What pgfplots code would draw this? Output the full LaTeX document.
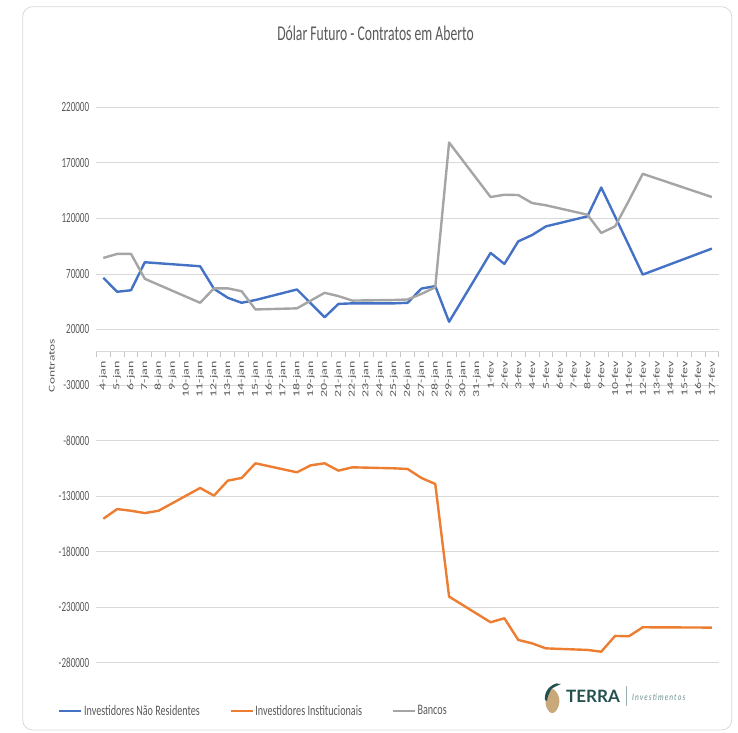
\documentclass[border=0pt]{standalone}
\usepackage{graphicx}
\usepackage{pgfplots}
\pgfplotsset{compat=1.18}
\usepackage{pgfplotstable}
\usepackage{fontspec}
\setmainfont{Carlito}[FakeStretch=0.65]
\newfontfamily\legfont{Carlito}[FakeStretch=0.7]
\newfontfamily\plainfont{Carlito}
\newfontfamily\logofont{Lato}
\newfontfamily\logoit{Lato}[FakeStretch=0.8,LetterSpace=12]
\definecolor{cblue}{HTML}{4472C4}
\definecolor{corange}{HTML}{ED7D31}
\definecolor{cgray}{HTML}{A5A5A5}
\definecolor{gridc}{HTML}{D9D9D9}
\definecolor{tickc}{HTML}{C8C8C8}
\definecolor{txt}{HTML}{595959}
\definecolor{logoteal}{HTML}{24504F}
\definecolor{logolight}{HTML}{6E9190}
\definecolor{logotan}{HTML}{C9A97A}
\newcommand{\xl}[1]{\scalebox{1}[0.65]{#1}}

\pgfplotstableread{
d v
0 66500
1 53900
2 55300
3 80500
4 79600
7 76900
8 56600
9 48500
10 44000
11 46500
14 56000
15 43500
16 31000
17 43000
18 43500
21 43500
22 44000
23 56800
24 59000
25 26900
28 88900
29 79000
30 99300
31 105000
32 112800
35 121800
36 147800
37 121700
38 95600
39 69400
44 92800
}\naoresidentes

\pgfplotstableread{
d v
0 -150400
1 -141700
2 -143200
3 -145300
4 -143200
7 -122700
8 -129600
9 -116100
10 -113700
11 -100500
14 -108600
15 -102300
16 -100500
17 -107100
18 -104100
21 -105000
22 -105600
23 -113700
24 -119100
25 -220500
28 -243600
29 -240000
30 -259500
31 -262600
32 -267100
35 -268500
36 -270100
37 -255900
38 -256200
39 -248100
44 -248400
}\institucionais

\pgfplotstableread{
d v
0 84400
1 88000
2 88100
3 65600
4 60200
7 44000
8 57000
9 57000
10 54400
11 38000
14 39000
15 46000
16 53000
17 50000
18 46000
21 46500
22 47000
23 52000
24 58000
25 188300
28 139200
29 141300
30 141000
31 133800
32 131800
35 123300
36 106900
37 112800
38 136000
39 160100
44 139200
}\bancos

\begin{document}
\begin{tikzpicture}
\path[use as bounding box] (0bp,0bp) rectangle (738bp,733bp);
\draw[gridc, line width=0.8bp, rounded corners=10bp] (22.7bp,3bp) rectangle (731.7bp,726.3bp);
\node[font=\fontsize{21bp}{24bp}\selectfont, text=txt] at (375.5bp,700bp) {Dólar Futuro - Contratos em Aberto};
\node[rotate=90, font=\plainfont\fontsize{13.5bp}{15bp}\selectfont, text=txt, inner sep=0pt] at (51.7bp,367.5bp) {\xl{Contratos}};

\begin{axis}[
  at={(96.4bp,70.3bp)}, anchor=south west,
  scale only axis, width=622.4bp, height=555.4bp,
  xmin=-0.5, xmax=44.5, ymin=-280000, ymax=220000,
  axis x line=middle, axis y line=left,
  x axis line style={gridc, line width=0.8bp, -},
  y axis line style={draw=none},
  hide obscured x ticks=false,
  scaled y ticks=false,
  ytick={-280000,-230000,...,220000},
  yticklabels={-280000,-230000,-180000,-130000,-80000,-30000,20000,70000,120000,170000,220000},
  xtick={0,...,44},
  minor xtick={-0.5,0.5,...,44.5},
  major tick length=0pt, minor tick length=5bp,
  every minor tick/.append style={tickc, line width=0.8bp, yshift=-2.5bp},
  ytick style={draw=none},
  ymajorgrids, grid style={gridc, line width=0.8bp},
  yticklabel style={font=\fontsize{14bp}{16bp}\selectfont, text=txt, anchor=east, inner sep=0pt, xshift=-7bp},
  xticklabel style={font=\plainfont\fontsize{14bp}{16bp}\selectfont, text=txt, rotate=90, anchor=east, inner sep=0pt},
  xticklabel shift=9.5bp,
  xticklabels={\xl{4-jan},\xl{5-jan},\xl{6-jan},\xl{7-jan},\xl{8-jan},\xl{9-jan},\xl{10-jan},\xl{11-jan},\xl{12-jan},\xl{13-jan},\xl{14-jan},\xl{15-jan},\xl{16-jan},\xl{17-jan},\xl{18-jan},\xl{19-jan},\xl{20-jan},\xl{21-jan},\xl{22-jan},\xl{23-jan},\xl{24-jan},\xl{25-jan},\xl{26-jan},\xl{27-jan},\xl{28-jan},\xl{29-jan},\xl{30-jan},\xl{31-jan},\xl{1-fev},\xl{2-fev},\xl{3-fev},\xl{4-fev},\xl{5-fev},\xl{6-fev},\xl{7-fev},\xl{8-fev},\xl{9-fev},\xl{10-fev},\xl{11-fev},\xl{12-fev},\xl{13-fev},\xl{14-fev},\xl{15-fev},\xl{16-fev},\xl{17-fev}},
  legend columns=3,
  legend cell align=left,
  legend style={at={(-0.0617,-0.087)}, anchor=west, draw=none, fill=none, inner sep=0pt,
    font=\legfont\fontsize{14.5bp}{17bp}\selectfont, text=txt,
    nodes={inner sep=1.5bp},
    /tikz/every even column/.append style={column sep=28bp}},
  legend image code/.code={\draw[#1] (0bp,0bp) -- (22bp,0bp);},
]
\addplot[cblue, line width=2.4bp, line join=round] table[x=d, y=v] {\naoresidentes};
\addlegendentry{Investidores Não Residentes}
\addplot[corange, line width=2.4bp, line join=round] table[x=d, y=v] {\institucionais};
\addlegendentry{Investidores Institucionais\hspace{16bp}}
\addplot[cgray, line width=2.4bp, line join=round] table[x=d, y=v] {\bancos};
\addlegendentry{Bancos}
\end{axis}

% logo
\fill[logotan] (548bp,23bp) .. controls (543bp,30bp) and (546bp,40bp) .. (553bp,44bp) .. controls (560bp,40bp) and (562bp,28bp) .. (555bp,21bp) .. controls (552bp,19bp) and (550bp,20bp) .. (548bp,23bp) -- cycle;
\fill[logoteal] (545bp,33bp) .. controls (544bp,42bp) and (550bp,48bp) .. (558bp,50bp) .. controls (552bp,46bp) and (548bp,40bp) .. (547bp,32bp) -- cycle;
\fill[logoteal] (548bp,44bp) .. controls (552bp,48bp) and (556bp,50bp) .. (561bp,49bp) .. controls (557bp,47bp) and (553bp,46bp) .. (549bp,42bp) -- cycle;
\node[anchor=west, inner sep=0pt, font=\logofont\bfseries\fontsize{17bp}{18bp}\selectfont, text=logoteal] at (566bp,36.5bp) {TERRA};
\draw[logolight!70, line width=0.6bp] (626bp,27bp) -- (626bp,47bp);
\node[anchor=west, inner sep=0pt, font=\logoit\itshape\fontsize{9bp}{10bp}\selectfont, text=logolight] at (632bp,35.5bp) {Investimentos};
\end{tikzpicture}
\end{document}
